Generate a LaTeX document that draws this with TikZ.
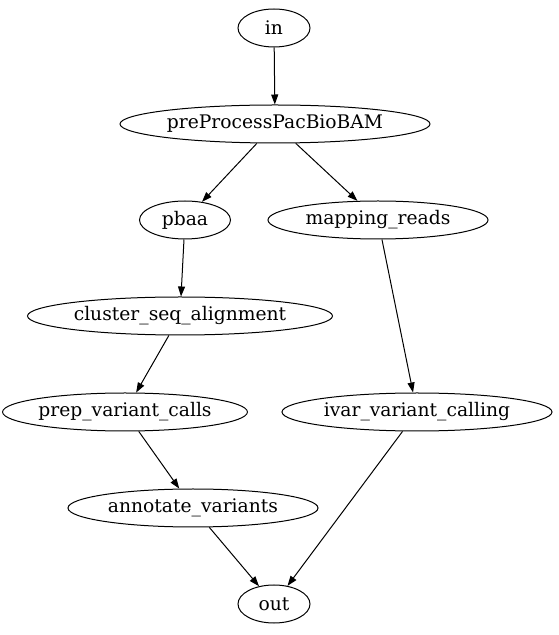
\documentclass[tikz,border=0pt]{standalone}
\usepackage{fontspec}
\setmainfont{DejaVu Serif}
\usetikzlibrary{shapes.geometric,arrows.meta}
\begin{document}
\begin{tikzpicture}[x=1pt,y=1pt,
  nd/.style={draw,ellipse,inner sep=0pt,line width=1pt,minimum height=38pt,font=\fontsize{18.7}{21}\selectfont},
  edge/.style={draw,-{Triangle[length=10pt,width=7pt]},line width=1pt}]
\useasboundingbox (0,0) rectangle (558,635);
\node[nd,minimum width=72pt] (in) at (274,607) {in};
\node[nd,minimum width=310pt] (pre) at (275,511) {preProcessPacBioBAM};
\node[nd,minimum width=91pt] (pbaa) at (185,415) {pbaa};
\node[nd,minimum width=220pt] (map) at (378,415) {mapping\_reads};
\node[nd,minimum width=305pt] (clu) at (180,319) {cluster\_seq\_alignment};
\node[nd,minimum width=240pt] (prep) at (125,223) {prep\_variant\_calls};
\node[nd,minimum width=270pt] (ivar) at (417,223) {ivar\_variant\_calling};
\node[nd,minimum width=250pt] (ann) at (193,127) {annotate\_variants};
\node[nd,minimum width=72pt] (out) at (274,31) {out};
\draw[edge] (in) -- (pre);
\draw[edge] (pre) -- (pbaa);
\draw[edge] (pre) -- (map);
\draw[edge] (pbaa) -- (clu);
\draw[edge] (clu) -- (prep);
\draw[edge] (prep) -- (ann);
\draw[edge] (ann) -- (out);
\draw[edge] (map) -- (ivar);
\draw[edge] (ivar) -- (out);
\end{tikzpicture}
\end{document}
